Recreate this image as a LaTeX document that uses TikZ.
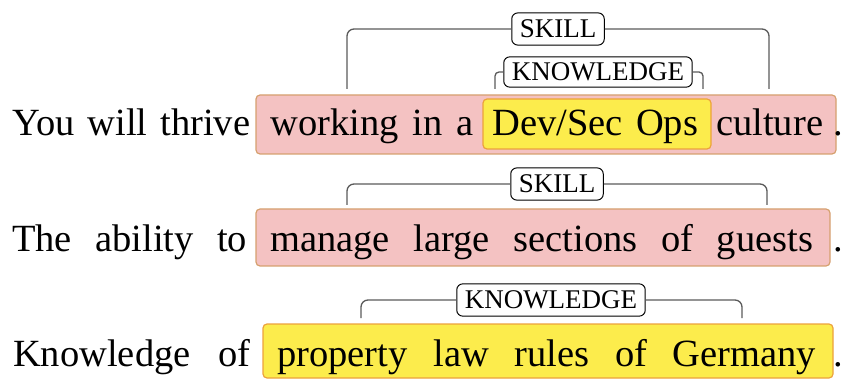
\documentclass[tikz,border=0pt]{standalone}
\usepackage{fontspec}
\setmainfont{Liberation Serif}
\usetikzlibrary{fit}
\definecolor{skillfill}{RGB}{244,194,194}
\definecolor{skilledge}{RGB}{214,160,110}
\definecolor{knowfill}{RGB}{252,236,76}
\definecolor{knowedge}{RGB}{236,162,60}
\definecolor{bracketgray}{RGB}{90,90,90}
% a run of words spread over a given width
\newcommand{\spread}[2]{\makebox[#1pt][s]{#2}}

\begin{document}
\begin{tikzpicture}[x=1pt,y=-1pt,
  spanbox/.style={rounded corners=4pt, line width=1.2pt, inner sep=0pt},
  skillspan/.style={spanbox, fill=skillfill, draw=skilledge},
  knowspan/.style={spanbox, fill=knowfill, draw=knowedge},
  word/.style={anchor=base west, inner sep=0pt, font=\fontsize{38.5}{40}\selectfont},
  tag/.style={draw=black, fill=white, rounded corners=6pt, line width=1pt,
    inner xsep=8pt, inner ysep=7pt, font=\fontsize{27}{28}\selectfont},
  bracket/.style={draw=bracketgray, line width=1.3pt, rounded corners=7pt}]

\useasboundingbox (0,0) rectangle (843,379);

% ---- sentence 1 ----
\node[skillspan, fit={(256,95) (836,154)}] (p1) {};
\node[knowspan, fit={(483,99) (711,149)}] (y1) {};
\node[word] (w1a) at (12,136) {\spread{238}{You will thrive}};
\node[word] (w1b) at (270,136) {\spread{203}{working in a}};
\node[word] (w1c) at (492,136) {\spread{206}{Dev/Sec Ops}};
\node[word] (w1d) at (716,136) {culture};
\node[word] (w1e) at (833,136) {.};

\node[tag] (t1) at (558,29) {SKILL};
\node[tag, inner ysep=6pt] (t2) at (598,72) {KNOWLEDGE};
\coordinate (b1l) at (347,89);
\coordinate (b1r) at (769,89);
\coordinate (b2l) at (495,89);
\coordinate (b2r) at (703,89);
\draw[bracket] (b1l) |- (t1.west);
\draw[bracket] (b1r) |- (t1.east);
\draw[bracket, rounded corners=4pt] (b2l) |- (t2.west);
\draw[bracket, rounded corners=4pt] (b2r) |- (t2.east);

% ---- sentence 2 ----
\node[skillspan, fit={(256,209) (830,266)}] (p2) {};
\node[word] (w2a) at (12,252) {\spread{235}{The ability to}};
\node[word] (w2b) at (270,252) {\spread{543}{manage large sections of guests}};
\node[word] (w2c) at (833,252) {.};

\node[tag] (t3) at (557,184) {SKILL};
\coordinate (b3l) at (347,205);
\coordinate (b3r) at (767,205);
\draw[bracket] (b3l) |- (t3.west);
\draw[bracket] (b3r) |- (t3.east);

% ---- sentence 3 ----
\node[knowspan, fit={(263,324) (833,378)}] (y3) {};
\node[word] (w3a) at (13,366) {\spread{237}{Knowledge of}};
\node[word] (w3b) at (277,366) {\spread{539}{property law rules of Germany}};
\node[word] (w3c) at (833,366) {.};

\node[tag] (t4) at (551,300) {KNOWLEDGE};
\coordinate (b4l) at (361,318);
\coordinate (b4r) at (742,318);
\draw[bracket] (b4l) |- (t4.west);
\draw[bracket] (b4r) |- (t4.east);
\end{tikzpicture}
\end{document}
